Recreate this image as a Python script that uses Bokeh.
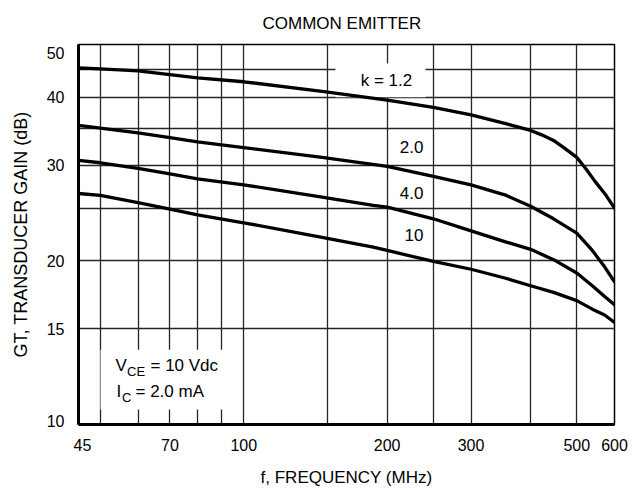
from bokeh.plotting import figure
from bokeh.models import FixedTicker, Label, CustomJSTickFormatter
from bokeh.embed import file_html
from bokeh.resources import INLINE

# ---------------- data ----------------
freq_k12 = [45, 50, 60, 70, 80, 100, 146, 200, 250, 300, 353, 400, 422, 447, 472, 500, 523, 546, 576, 600]
gain_k12 = [45.3, 45.1, 44.7, 44.0, 43.4, 42.7, 41.0, 39.5, 38.3, 37.1, 35.8, 34.75, 34.1, 33.3, 32.2, 31.0, 29.5, 28.0, 26.4, 25.0]

freq_k20 = [45, 50, 60, 70, 80, 100, 146, 200, 250, 300, 353, 400, 447, 500, 539, 572, 600]
gain_k20 = [35.5, 35.1, 34.4, 33.7, 33.1, 32.3, 31.0, 29.85, 28.6, 27.6, 26.45, 25.2, 23.9, 22.5, 20.9, 19.5, 18.3]

freq_k40 = [45, 50, 60, 70, 80, 100, 146, 187, 200, 250, 300, 353, 400, 447, 500, 539, 572, 600]
gain_k40 = [30.6, 30.3, 29.6, 28.9, 28.3, 27.6, 26.2, 25.3, 25.1, 23.9, 22.7, 21.7, 21.0, 20.1, 19.0, 18.0, 17.2, 16.6]

freq_k10 = [45, 50, 60, 70, 80, 100, 146, 187, 200, 250, 300, 353, 400, 447, 500, 539, 572, 600]
gain_k10 = [26.6, 26.4, 25.6, 24.9, 24.3, 23.5, 22.1, 21.2, 20.9, 19.95, 19.3, 18.6, 18.0, 17.5, 16.9, 16.3, 15.9, 15.4]

curve_labels = ["k = 1.2", "2.0", "4.0", "10"]

x_tick_values = [45, 70, 100, 200, 300, 500, 600]
x_tick_labels = ["45", "70", "100", "200", "300", "500", "600"]
y_tick_values = [10, 15, 20, 30, 40, 50]
y_tick_labels = ["10", "15", "20", "30", "40", "50"]
x_grid_values = [50, 60, 70, 80, 90, 100, 150, 200, 250, 300, 400, 500]
y_grid_values = [15, 20, 25, 30, 35, 40, 45]

title_text = "COMMON EMITTER"
x_label_text = "f, FREQUENCY (MHz)"
y_label_text = "GT, TRANSDUCER GAIN (dB)"

# ---------------- layout helpers ----------------
FONT = "Liberation Sans"
X_MIN, X_MAX = 45, 600
Y_MIN, Y_MAX = 10, 50
# frame edges in canvas pixels
PX0, PX1, PY0, PY1 = 78, 614, 44, 425


def fx(px):
    return X_MIN * (X_MAX / X_MIN) ** ((px - PX0) / (PX1 - PX0))


def fy(py):
    return Y_MIN * (Y_MAX / Y_MIN) ** ((PY1 - py) / (PY1 - PY0))


p = figure(width=632, height=489,
           x_axis_type="log", y_axis_type="log",
           x_range=(X_MIN, X_MAX), y_range=(Y_MIN, Y_MAX),
           output_backend="svg", toolbar_location=None,
           min_border_left=78, min_border_right=18,
           min_border_top=44, min_border_bottom=64,
           background_fill_color="white", border_fill_color="white")

p.title.text = title_text
p.title.align = "left"
p.title.offset = 184
p.title.text_font = FONT
p.title.text_font_size = "17px"
p.title.text_font_style = "normal"
p.title.text_color = "black"
p.title.standoff = 23

p.outline_line_color = "black"
p.outline_line_width = 1.5
p.outline_line_alpha = 1.0

# the end labels of the reference sit a little inside the frame
x_tick_pos = [fx(PX0 + 4)] + x_tick_values[1:]
y_tick_pos = [fy(PY1 - 4)] + y_tick_values[1:-1] + [fy(PY0 + 9)]

for ax, pos, labels, standoff, lstand, lsize in (
        (p.xaxis, x_tick_pos, x_tick_labels, 8, 14, "17px"),
        (p.yaxis, y_tick_pos, y_tick_labels, 8, 13, "18px")):
    ax.ticker = FixedTicker(ticks=pos, minor_ticks=[])
    ax.formatter = CustomJSTickFormatter(args=dict(labels=labels),
                                         code="return labels[index];")
    ax.major_tick_line_color = None
    ax.minor_tick_line_color = None
    ax.axis_line_width = 3
    ax.axis_line_color = "black"
    ax.major_label_text_font = FONT
    ax.major_label_text_font_size = "16px"
    ax.major_label_text_color = "black"
    ax.major_label_standoff = standoff
    ax.axis_label_text_font = FONT
    ax.axis_label_text_font_size = lsize
    ax.axis_label_text_font_style = "normal"
    ax.axis_label_text_color = "black"
    ax.axis_label_standoff = lstand

p.xaxis.axis_label = x_label_text
p.yaxis.axis_label = y_label_text

p.xgrid.ticker = FixedTicker(ticks=x_grid_values, minor_ticks=[])
p.ygrid.ticker = FixedTicker(ticks=y_grid_values, minor_ticks=[])
for g in (p.xgrid, p.ygrid):
    g.grid_line_color = "#262626"
    g.grid_line_width = 1.3
    g.grid_line_alpha = 1.0

# white boxes behind the in-plot texts (hide grid lines)
p.quad(left=[fx(335), fx(100)], right=[fx(425), fx(236)],
       bottom=[fy(97), fy(410)], top=[fy(63), fy(350)],
       fill_color="white", line_color=None)

for f, g in ((freq_k12, gain_k12), (freq_k20, gain_k20),
             (freq_k40, gain_k40), (freq_k10, gain_k10)):
    p.line(f, g, line_width=3.3, line_color="black",
           line_join="round", line_cap="round")


def lab(px, py, text, size="17px", align="left"):
    p.add_layout(Label(x=fx(px), y=fy(py), text=text, text_font=FONT,
                       text_font_size=size, text_align=align,
                       text_baseline="middle", text_color="black"))


# curve labels
lab(386, 80, curve_labels[0], align="center")
lab(423, 147, curve_labels[1], align="right")
lab(423, 192.5, curve_labels[2], align="right")
lab(423, 235, curve_labels[3], align="right")

# operating conditions
lab(115, 366, "V")
lab(126.5, 372, "CE", size="13px")
lab(150, 366, "= 10 Vdc")
lab(116, 392, "I")
lab(121.5, 398, "C", size="13px")
lab(135, 392, "= 2.0 mA")

open("out.html", "w").write(file_html(p, INLINE))
